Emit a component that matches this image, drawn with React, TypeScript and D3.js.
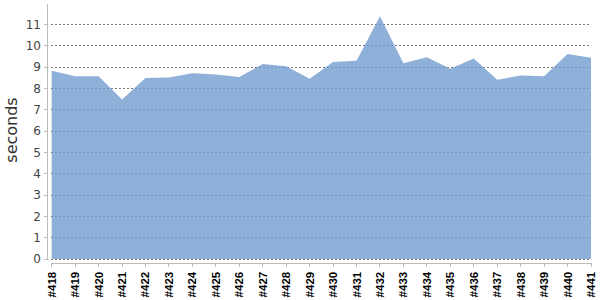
import React from "react";
import * as d3 from "d3";

const builds = ["#418","#419","#420","#421","#422","#423","#424","#425","#426","#427","#428","#429","#430","#431","#432","#433","#434","#435","#436","#437","#438","#439","#440","#441"];
const seconds = [8.82,8.57,8.57,7.48,8.48,8.51,8.71,8.65,8.53,9.14,9.04,8.45,9.23,9.29,11.38,9.17,9.46,8.92,9.40,8.40,8.60,8.57,9.61,9.43];
const yTicks = [0,1,2,3,4,5,6,7,8,9,10,11];

const W = 600, H = 300;
const font = "'DejaVu Sans', sans-serif";

export default function App() {
  const x = d3.scalePoint<string>().domain(builds).range([51.7, 591]);
  const y = d3.scaleLinear().domain([0, 12]).range([259, 3]);
  const data = builds.map((b, i) => ({ b, v: seconds[i] }));
  const area = d3.area<{ b: string; v: number }>()
    .x(d => x(d.b) as number)
    .y0(y(0))
    .y1(d => y(d.v));
  const axisX = 47.7;
  const axisY = 263.3;
  return (
    <svg width={W} height={H} style={{ position: "absolute", left: 0, top: 0, background: "#fff" }}>
      {yTicks.map(t => (
        <line key={"g" + t} x1={51} x2={591} y1={y(t)} y2={y(t)} stroke="#7a7a7a" strokeWidth={1} strokeDasharray="2,2" shapeRendering="crispEdges" />
      ))}
      <path d={area(data) as string} fill="rgb(114,156,208)" fillOpacity={0.8} />
      <line x1={axisX} x2={axisX} y1={4} y2={259} stroke="#bbb" strokeWidth={1} shapeRendering="crispEdges" />
      {yTicks.map(t => (
        <g key={"t" + t}>
          <line x1={44} x2={axisX} y1={y(t)} y2={y(t)} stroke="#bbb" shapeRendering="crispEdges" />
          <text x={41} y={y(t)} dy="0.36em" textAnchor="end" fontFamily={font} fontSize={12} fill="#444">{t}</text>
        </g>
      ))}
      <line x1={51.7} x2={591} y1={axisY} y2={axisY} stroke="#bbb" strokeWidth={1} shapeRendering="crispEdges" />
      {builds.map(b => (
        <g key={b}>
          <line x1={x(b)} x2={x(b)} y1={axisY} y2={axisY + 4} stroke="#bbb" shapeRendering="crispEdges" />
          <text transform={`translate(${(x(b) as number) + 4},${axisY + 8.5}) rotate(-90)`} textAnchor="end" fontFamily="'Liberation Sans', Arial, sans-serif" fontSize={11.5} fontWeight="bold" fill="#000">{b}</text>
        </g>
      ))}
      <text transform="translate(17,130) rotate(-90)" textAnchor="middle" fontFamily={font} fontSize={16} fill="#333">seconds</text>
    </svg>
  );
}
